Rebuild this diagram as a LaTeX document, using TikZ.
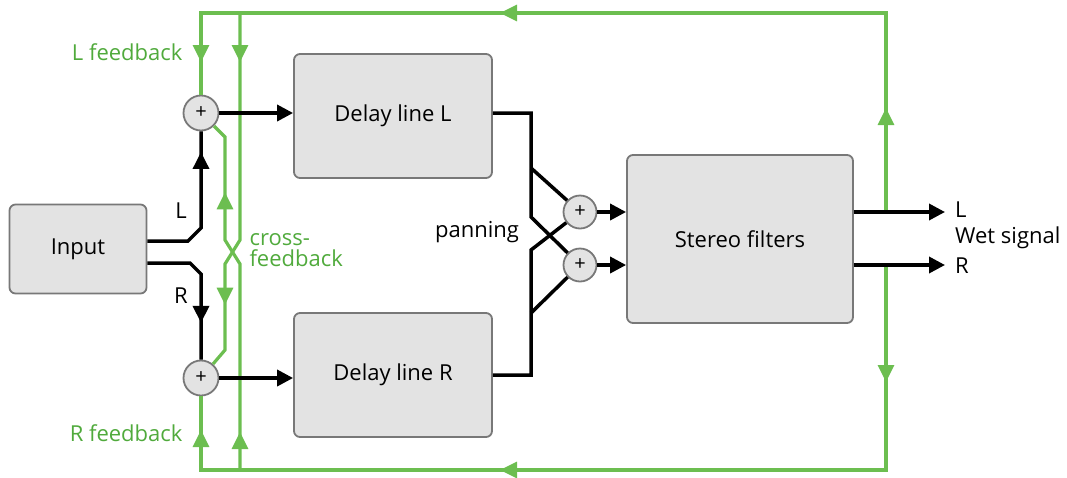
\documentclass[tikz,border=0pt]{standalone}
\usepackage{fontspec}
\setmainfont{Open Sans}
\usetikzlibrary{arrows.meta,decorations.markings}
\definecolor{fbgreen}{RGB}{108,190,80}
\definecolor{txtgreen}{RGB}{80,170,60}
\definecolor{boxgray}{RGB}{227,227,227}
\definecolor{edgegray}{RGB}{120,120,120}
\begin{document}
\begin{tikzpicture}[x=1pt,y=-1pt,
  every node/.style={font=\fontsize{22}{21}\selectfont},
  block/.style={draw=edgegray,fill=boxgray,line width=1.8pt,rounded corners=6pt},
  summer/.style={shape=circle,draw=edgegray,fill=boxgray,line width=1.8pt,minimum size=35pt,inner sep=0pt,font=\fontsize{20}{20}\selectfont},
  sig/.style={line width=3.5pt,black},
  fb/.style={line width=3.2pt,fbgreen},
  endtip/.style={-{Triangle[width=16pt,length=16pt]}},
  midtip/.style={postaction={decorate,decoration={markings,mark=at position #1 with {\arrow{Triangle[width=16pt,length=17pt]}}}}},
  lbl/.style={inner sep=0pt,anchor=west}]
\useasboundingbox (0,0) rectangle (1067,477);

\node[block,minimum width=137pt,minimum height=89pt] (Input) at (78,249) {Input};
\node[block,minimum width=198pt,minimum height=124pt] (DelayL) at (393,116) {Delay line L};
\node[block,minimum width=198pt,minimum height=124pt] (DelayR) at (393,375) {Delay line R};
\node[block,minimum width=226pt,minimum height=168pt] (Stereo) at (740,239) {Stereo filters};

\node[summer] (SumL) at (201,113) {+};
\node[summer] (SumR) at (201,378) {+};
\node[summer,minimum size=33pt] (PanL) at (580,212) {+};
\node[summer,minimum size=33pt] (PanR) at (580,265) {+};

\coordinate (TapL) at (886,212);
\coordinate (TapR) at (886,265);

% feedback loops
\draw[fb,midtip=104pt,midtip=585pt,midtip=933pt] (TapL) -- (886,13) -- (201,13) -- (SumL);
\draw[fb,midtip=117pt,midtip=591pt,midtip=930pt] (TapR) -- (886,470) -- (201,470) -- (SumR);
\draw[fb,midtip=49pt,midtip=296pt] (240,13) -- (240,240) -- (225,264) -- (225,350) -- (SumR);
\draw[fb,midtip=38pt,midtip=282pt] (240,470) -- (240,264) -- (225,240) -- (225,137) -- (SumL);

% signal path
\draw[sig,midtip=135pt] ([yshift=8pt]Input.east) -- (188,241) -- (201,228) -- (SumL);
\draw[sig,midtip=107pt] ([yshift=-14pt]Input.east) -- (190,263) -- (201,274) -- (SumR);
\draw[sig,endtip] (SumL) -- (SumL -| DelayL.west);
\draw[sig,endtip] (SumR) -- (SumR -| DelayR.west);

\draw[sig] ([yshift=3pt]DelayL.east) -- (531,113) -- (531,217) -- (PanR);
\draw[sig] (531,168) -- (PanL);
\draw[sig] (DelayR.east) -- (531,375) -- (531,250) -- (PanL);
\draw[sig] (531,313) -- (PanR);
\draw[sig,endtip] (PanL) -- (PanL -| Stereo.west);
\draw[sig,endtip] (PanR) -- (PanR -| Stereo.west);

\node[lbl] (OutL) at (955,210) {L};
\node[lbl] (Wet) at (955,238) {Wet signal};
\node[lbl] (OutR) at (955,266) {R};
\draw[sig,endtip,shorten >=10pt] (Stereo.east |- PanL) -- (OutL.west |- PanL);
\draw[sig,endtip,shorten >=10pt] (Stereo.east |- PanR) -- (OutR.west |- PanR);

% labels
\node[anchor=east,text=txtgreen] (LFb) at (186,52) {L feedback};
\node[anchor=east,text=txtgreen] (RFb) at (186,433) {R feedback};
\node[anchor=west,text=txtgreen,align=left] (Cross) at (246,250) {cross-\\feedback};
\node (Pan) at (477,232) {panning};
\node (LblL) at (181,211) {L};
\node (LblR) at (181,296) {R};
\end{tikzpicture}
\end{document}
